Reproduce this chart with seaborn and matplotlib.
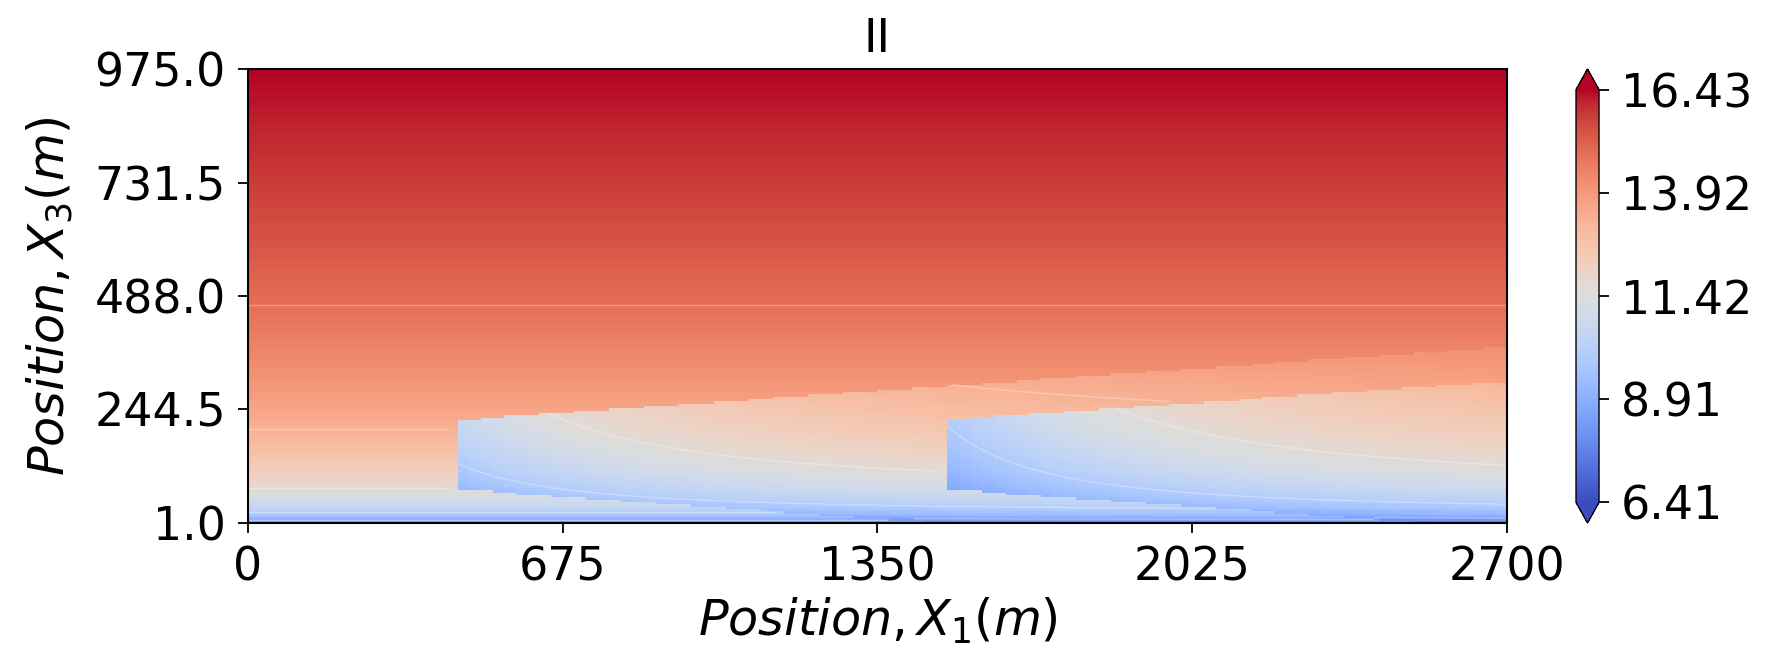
import numpy as np
import pandas as pd
import matplotlib
matplotlib.use("Agg")
import matplotlib.pyplot as plt
import seaborn as sns

# Axis ticks and colour range
x_ticks = [0, 675, 1350, 2025, 2700]
z_ticks = [1.0, 244.5, 488.0, 731.5, 975.0]
cbar_ticks = [6.41, 8.91, 11.42, 13.92, 16.43]
v_min, v_max = 6.41, 16.43

# Inflow: power-law profile from the ground value to the top value
u_bottom, u_top = 6.41, 16.43
z_bottom, z_top = 1.0, 975.0
x_len = 2700.0

# Turbines (streamwise positions) and top-hat (Jensen) wake parameters
turbine_x = [450.0, 1500.0]
hub_height = 150.0
rotor_radius = 75.0
wake_spread = 0.07
initial_deficit = 0.20

# Faint iso-lines drawn over the field
iso_levels = [8.33, 9.96, 11.59, 13.26, 14.86]

# Grid nodes
nx_nodes, nz_nodes = 109, 195
x_nodes = np.linspace(0.0, x_len, nx_nodes)
z_nodes = np.linspace(z_top, z_bottom, nz_nodes)     # top to bottom
X, Z = np.meshgrid(x_nodes, z_nodes)

shear = np.log(u_top / u_bottom) / np.log(z_top / z_bottom)
U0 = u_top * (Z / z_top) ** shear

deficit = np.zeros_like(U0)
region = np.zeros(U0.shape, dtype=int)
for k, xt in enumerate(turbine_x):
    dx = np.clip(X - xt, 0.0, None)
    radius = rotor_radius + wake_spread * dx
    inside = (X >= xt) & (np.abs(Z - hub_height) <= radius)
    d = initial_deficit / (1.0 + wake_spread * dx / rotor_radius) ** 2
    deficit += np.where(inside, d, 0.0)
    region += inside.astype(int) << k
U = U0 * (1.0 - deficit)

# Each cell takes the value of its upper-left node
cells = U[:-1, :-1]
x_cells = 0.5 * (x_nodes[:-1] + x_nodes[1:])
z_cells = 0.5 * (z_nodes[:-1] + z_nodes[1:])
field = pd.DataFrame(cells, index=np.round(z_cells, 1), columns=np.round(x_cells, 1))
nrow, ncol = cells.shape

fig = plt.figure(figsize=(17.7, 6.53), dpi=100)
ax = fig.add_axes([0.1401, 0.1991, 0.7113, 0.6952])
cax = fig.add_axes([0.8904, 0.1991, 0.0130, 0.6952])

sns.heatmap(field, ax=ax, cbar_ax=cax, cmap="coolwarm", vmin=v_min, vmax=v_max,
            xticklabels=False, yticklabels=False,
            cbar_kws={"extend": "both", "ticks": cbar_ticks, "format": "%.2f"})

# Heatmap works in cell coordinates: map physical positions onto them
def to_col(x):
    return np.asarray(x) / x_len * ncol

def to_row(z):
    return (z_top - np.asarray(z)) / (z_top - z_bottom) * nrow

# Iso-lines are traced separately in each wake region so they stop at the wake edges
for lab in np.unique(region):
    U_part = np.ma.masked_where(region != lab, U)
    ax.contour(to_col(x_nodes), to_row(z_nodes), U_part, levels=iso_levels,
               colors="white", linewidths=1.0, alpha=0.3)

ax.set_xticks(to_col(x_ticks))
ax.set_xticklabels([str(v) for v in x_ticks])
ax.set_yticks(to_row(z_ticks))
ax.set_yticklabels([f"{v:.1f}" for v in z_ticks], rotation=0)
ax.set_xlim(0, ncol)
ax.set_ylim(nrow, 0)

for s in ax.spines.values():
    s.set_visible(True)
    s.set_color("black")
    s.set_linewidth(1.5)

fs_tick, fs_label = 33, 35.5
ax.tick_params(axis="both", labelsize=fs_tick, length=7, width=1.3, pad=9,
               direction="out", left=True, bottom=True, colors="black")
ax.set_xlabel("$Position, X_1(m)$", fontsize=fs_label, labelpad=4)
ax.set_ylabel("$Position, X_3(m)$", fontsize=fs_label, labelpad=14)
ax.set_title("II", fontsize=fs_tick, pad=12)

cb = ax.collections[0].colorbar
cb.outline.set_linewidth(1.0)
cb.outline.set_edgecolor("black")
cax.tick_params(labelsize=fs_tick, length=7, width=1.3, pad=9)

fig.savefig("out.png", dpi=100)
